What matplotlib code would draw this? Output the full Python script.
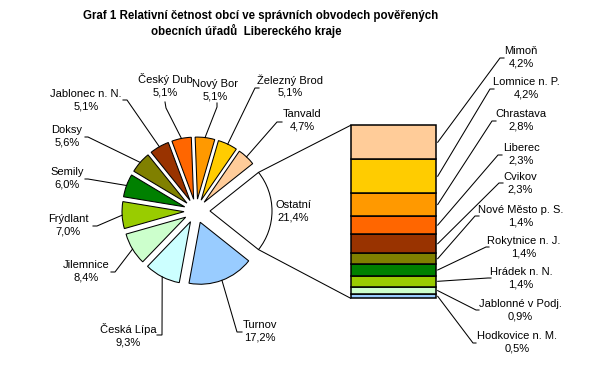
import matplotlib
matplotlib.use("Agg")
import matplotlib.pyplot as plt
import numpy as np

# pie part (Ostatní first, then counter-clockwise)
pie_names = ['Ostatní', 'Tanvald', 'Železný Brod', 'Nový Bor', 'Český Dub',
             'Jablonec n. N.', 'Doksy', 'Semily', 'Frýdlant', 'Jilemnice',
             'Česká Lípa', 'Turnov']
pie_values = [21.4, 4.7, 5.1, 5.1, 5.1, 5.1, 5.6, 6.0, 7.0, 8.4, 9.3, 17.2]
pie_colors = ['white', '#FFCC99', '#FFCC00', '#FF9900', '#FF6600', '#993300',
              '#808000', '#008000', '#99CC00', '#CCFFCC', '#CCFFFF', '#99CCFF']

# bar part (top to bottom) = split of "Ostatní"
bar_names = ['Mimoň', 'Lomnice n. P.', 'Chrastava', 'Liberec', 'Cvikov',
             'Nové Město p. S.', 'Rokytnice n. J.', 'Hrádek n. N.',
             'Jablonné v Podj.', 'Hodkovice n. M.']
bar_values = [4.2, 4.2, 2.8, 2.3, 2.3, 1.4, 1.4, 1.4, 0.9, 0.5]
bar_colors = ['#FFCC99', '#FFCC00', '#FF9900', '#FF6600', '#993300',
              '#808000', '#008000', '#99CC00', '#CCFFCC', '#99CCFF']

W, H = 609, 375


def py(y):
    # pixel row -> data y (axes y goes up)
    return H - y


def pct(v):
    return f"{v:.1f}%".replace('.', ',')


# layout (pixel coordinates of the reference)
pie_cx, pie_cy, pie_r = 196, 211, 62
explode_px = [14] + [12] * 11
bar_left, bar_right, bar_top, bar_bottom = 350.7, 435.7, 125.3, 298.3

pie_label_pos = [(293, 211), (302, 120), (290, 86), (215, 90), (165, 85),
                 (86, 100), (67, 136), (67, 178), (68, 225), (86, 271),
                 (128, 335), (260, 331)]
pie_leader = [None, [(277, 122), (282, 122)], [(255, 88), (259, 88)],
              [(217, 107), (217, 103)], [(166, 108), (165, 102)],
              [(127, 100), (123, 100)], [(88, 137), (85, 137)],
              [(88, 179), (85, 179)], [(97, 226), (93, 226)],
              [(115, 272), (111, 272)], [(162, 335), (157, 335)],
              [(237, 332), (242, 332)]]

bar_label_pos = [(521, 57), (526, 88), (521, 120), (521, 154), (520, 183),
                 (521, 216), (524, 247), (521, 278), (520, 310), (517, 342)]
bar_leader = [[(500, 58), (504, 58)], [(490, 89), (494, 89)],
              [(492, 121), (496, 121)], [(498, 155), (502, 155)],
              [(499, 183), (503, 183)], [(475, 216), (479, 216)],
              [(486, 247), (489, 247)], [(488, 278), (491, 278)],
              [(476, 310), (479, 310)], [(473, 343), (476, 343)]]

plt.rcParams['font.family'] = ['Liberation Sans', 'DejaVu Sans']

fig = plt.figure(figsize=(W / 100, H / 100), dpi=100)
ax = fig.add_axes([0, 0, 1, 1])

lw = 0.75
half = pie_values[0] / 100 * 360 / 2
start = -half
# explode is in data units here (pixels)
ax.pie(pie_values, colors=pie_colors, center=(pie_cx, py(pie_cy)),
       radius=pie_r, startangle=start, counterclock=True,
       explode=explode_px,
       wedgeprops=dict(edgecolor='black', linewidth=lw), frame=True)
ax.set_xlim(0, W)
ax.set_ylim(0, H)
ax.set_aspect('equal')
ax.axis('off')

# pie labels and leader lines
cum = np.cumsum([0] + pie_values)
for i, name in enumerate(pie_names):
    mid = np.deg2rad(start + (cum[i] + cum[i + 1]) / 2 / 100 * 360)
    lx, ly = pie_label_pos[i]
    ax.text(lx, py(ly), f"{name}\n{pct(pie_values[i])}", ha='center',
            va='center', fontsize=8, linespacing=1.3)
    if pie_leader[i] is not None:
        d = pie_r + explode_px[i]
        sx = pie_cx + d * np.cos(mid)
        sy = pie_cy - d * np.sin(mid)
        pts = [(sx, sy)] + pie_leader[i]
        ax.plot([p[0] for p in pts], [py(p[1]) for p in pts], color='black',
                lw=lw, solid_joinstyle='miter')

# stacked bar
scale = (bar_bottom - bar_top) / sum(bar_values)
bottom = py(bar_bottom)
mids = {}
for i in range(len(bar_values) - 1, -1, -1):
    h = bar_values[i] * scale
    ax.bar((bar_left + bar_right) / 2, h, width=bar_right - bar_left,
           bottom=bottom, color=bar_colors[i], edgecolor='black', linewidth=1.1)
    mids[i] = bottom + h / 2
    bottom += h

for i, name in enumerate(bar_names):
    lx, ly = bar_label_pos[i]
    ax.text(lx, py(ly), f"{name}\n{pct(bar_values[i])}", ha='center',
            va='center', fontsize=8, linespacing=1.3)
    pts = [(bar_right + 2, H - mids[i])] + bar_leader[i]
    ax.plot([p[0] for p in pts], [py(p[1]) for p in pts], color='black',
            lw=lw, solid_joinstyle='miter')

# connectors from the ends of the split slice's arc to the bar corners
apex_x = pie_cx + explode_px[0]
for sign, corner in ((1, bar_top), (-1, bar_bottom)):
    a = np.deg2rad(sign * half)
    ex = apex_x + pie_r * np.cos(a)
    ey = pie_cy - pie_r * np.sin(a)
    ax.plot([ex, bar_left], [py(ey), py(corner)], color='black', lw=lw)

ax.text(261, py(16), 'Graf 1 Relativní četnost obcí ve správních obvodech pověřených',
        ha='center', va='center', fontsize=8.3, fontweight='bold')
ax.text(246, py(31), 'obecních úřadů  Libereckého kraje',
        ha='center', va='center', fontsize=8.3, fontweight='bold')

fig.savefig('out.png', dpi=100)
